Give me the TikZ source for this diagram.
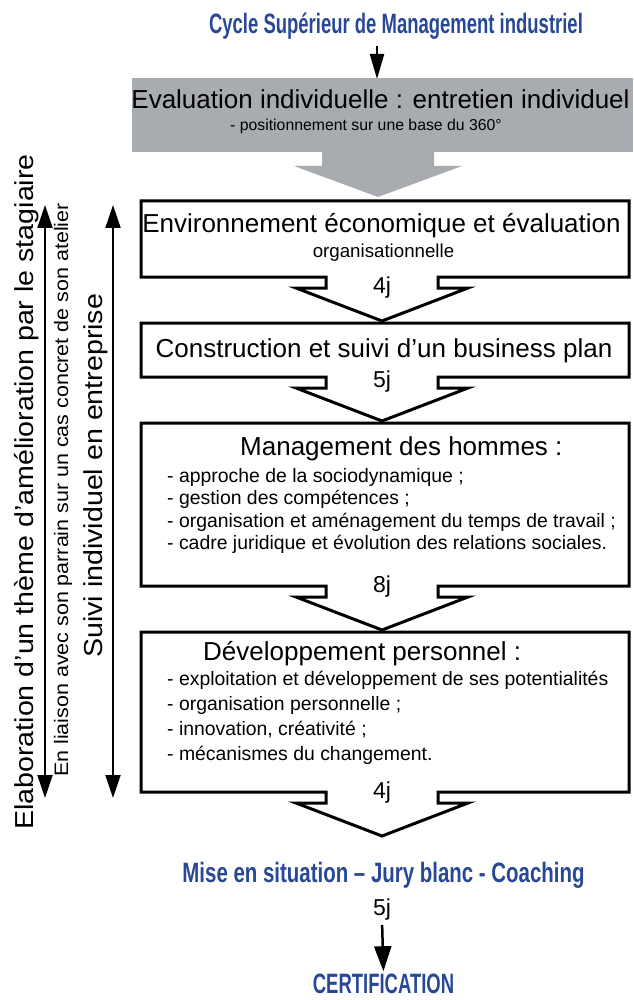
\documentclass[tikz,border=0pt]{standalone}
\usepackage{fontspec}
\setmainfont{Liberation Sans}
\newfontfamily\condbf{Liberation Sans}[FakeStretch=0.66]
\newfontfamily\condbfwide{Liberation Sans}[FakeStretch=0.73]
\newfontfamily\sidefont{Liberation Sans}[FakeStretch=1.1]
\usetikzlibrary{arrows.meta}
\definecolor{csmblue}{RGB}{40,72,150}
\definecolor{evalgray}{RGB}{168,171,175}

\begin{document}
\begin{tikzpicture}[x=1pt, y=-1pt,
  bluehead/.style={font=\condbf\bfseries\fontsize{28}{32}\selectfont, text=csmblue, inner sep=0, anchor=base},
  blocktitle/.style={font=\fontsize{26}{30}\selectfont, inner sep=0, anchor=base},
  blocksub/.style={font=\fontsize{18.7}{22}\selectfont, inner sep=0, anchor=base},
  blockitem/.style={font=\fontsize{19.4}{22}\selectfont, inner sep=0, anchor=base west},
  daylabel/.style={font=\fontsize{23}{26}\selectfont, inner sep=0, anchor=base},
  sidetext/.style={rotate=90, inner sep=0, anchor=base west},
  blockline/.style={line width=3pt, line join=miter},
  sidearrow/.style={line width=2pt, {Triangle[length=23pt,width=15pt]}-{Triangle[length=23pt,width=15pt]}},
  downarrow/.style={line width=2.5pt, -{Triangle[length=25pt,width=17pt]}}]
\useasboundingbox (0,0) rectangle (633,1000);

% en-tete
\node[bluehead] (csmtitle) at (396,33.5) {Cycle Supérieur de Management industriel};
\coordinate (evaltop) at (377,79);
\coordinate (titlefoot) at (377,46);
\draw[line width=2.2pt, -{Triangle[length=25pt,width=14pt]}] (titlefoot) -- (evaltop);

% evaluation (bloc gris)
\fill[evalgray] (132,78) rectangle (633,152);
\fill[evalgray] (322,151) -- (434,151) -- (434,166) -- (462,166) -- (378,197) -- (294,166) -- (322,166) -- cycle;
\node[blocktitle] (evalmain) at (380.5,109) {Evaluation individuelle : entretien individuel};
\node[blocktitle, font=\fontsize{15.8}{18}\selectfont] (evalsub) at (366,131) {- positionnement sur une base du 360°};

% blocs avec fleche
\foreach \yt/\yb in {201/277, 323/377, 423/586, 632/792} {
  \draw[blockline] (141,\yt) -- (629,\yt) -- (629,\yb) -- (438,\yb) -- (438,\yb+11) -- (468,\yb+11)
    -- (382,\yb+44) -- (296,\yb+11) -- (326,\yb+11) -- (326,\yb) -- (141,\yb) -- cycle;
}

% bloc 1
\node[blocktitle] (envtitle) at (381.5,233) {Environnement économique et évaluation};
\node[blocksub] (envsub) at (383.5,258) {organisationnelle};
\node[daylabel] (envdays) at (382,293) {4j};

% bloc 2
\node[blocktitle] (bptitle) at (384,357) {Construction et suivi d’un business plan};
\node[daylabel] (bpdays) at (382,387) {5j};

% bloc 3
\node[blocktitle, anchor=base west] (mhtitle) at (240,455) {Management des hommes :};
\foreach \txt [count=\i] in {- approche de la sociodynamique ;, - gestion des compétences ;,
  - organisation et aménagement du temps de travail ;, - cadre juridique et évolution des relations sociales.}
  \node[blockitem] (mh\i) at (167,{459.5+22.5*\i}) {\txt};
\node[daylabel] (mhdays) at (382,592) {8j};

% bloc 4
\node[blocktitle, anchor=base west] (dptitle) at (203,660) {Développement personnel :};
\foreach \txt [count=\i] in {- exploitation et développement de ses potentialités, - organisation personnelle ;,
  {- innovation, créativité ;}, - mécanismes du changement.}
  \node[blockitem] (dp\i) at (167,{660+25*\i}) {\txt};
\node[daylabel] (dpdays) at (382,798) {4j};

% fin
\node[bluehead, font=\condbfwide\bfseries\fontsize{28}{32}\selectfont] (mise) at (383.5,882) {Mise en situation – Jury blanc - Coaching};
\node[daylabel] (misedays) at (382,915) {5j};
\node[bluehead] (cert) at (383.5,993) {CERTIFICATION};
\draw[downarrow, shorten <=5pt, shorten >=2pt] (misedays.south) -- (cert.north);

% cote gauche
\node[sidetext, font=\sidefont\fontsize{26}{30}\selectfont] (elab) at (33,830) {Elaboration d’un thème d’amélioration par le stagiaire};
\node[sidetext, font=\sidefont\fontsize{19.5}{22}\selectfont] (liaison) at (68,777) {En liaison avec son parrain sur un cas concret de son atelier};
\node[sidetext, font=\sidefont\fontsize{26}{30}\selectfont] (suivi) at (102,658) {Suivi individuel en entreprise};
\coordinate (elabtop) at (45,205);
\coordinate (elabbot) at (45,798);
\coordinate (suivitop) at (113,205);
\coordinate (suivibot) at (113,798);
\draw[sidearrow] (elabtop) -- (elabbot);
\draw[sidearrow] (suivitop) -- (suivibot);
\end{tikzpicture}
\end{document}
